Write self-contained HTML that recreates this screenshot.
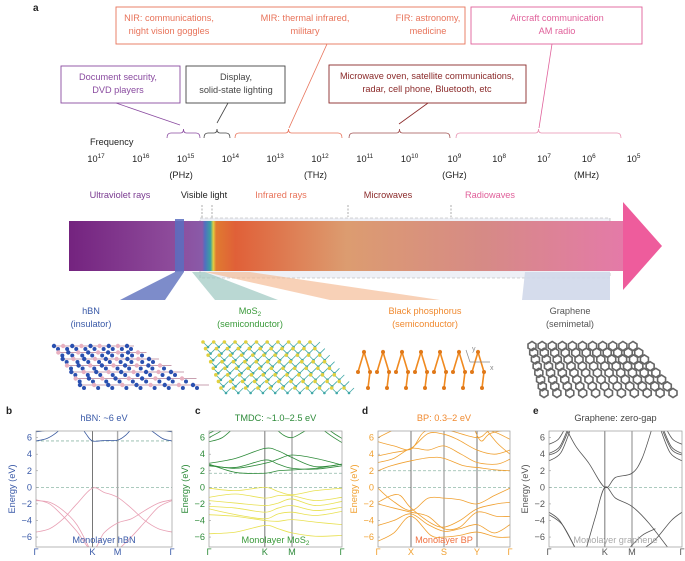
<!DOCTYPE html>
<html><head><meta charset="utf-8"><style>
body{margin:0;background:#fff}
svg{display:block;font-family:"Liberation Sans",sans-serif}
</style></head><body>
<svg id="fig" width="685" height="561" viewBox="0 0 685 561" xmlns="http://www.w3.org/2000/svg">
<defs>
<linearGradient id="barg" x1="0" x2="1" y1="0" y2="0">
<stop offset="0" stop-color="#74237f"/><stop offset="0.18" stop-color="#8d4a9a"/>
<stop offset="0.24" stop-color="#8a5aa8"/><stop offset="0.245" stop-color="#5070c0"/><stop offset="0.255" stop-color="#3aa0a0"/><stop offset="0.26" stop-color="#e0d040"/><stop offset="0.265" stop-color="#e07a30"/>
<stop offset="0.3" stop-color="#e06038"/><stop offset="0.5" stop-color="#dc9c70"/><stop offset="0.75" stop-color="#d68a86"/><stop offset="1" stop-color="#e47aa8"/>
</linearGradient>
</defs>
<g id="topg"></g>
<g id="lat"></g>
<g id="bands"></g>
</svg>
<script>
// ---- data ----
const freqExponents=[17,16,15,14,13,12,11,10,9,8,7,6,5];
const unitLabels=["(PHz)","(THz)","(GHz)","(MHz)"];
const regionLabels=["Ultraviolet rays","Visible light","Infrared rays","Microwaves","Radiowaves"];
const yTicks=[6,4,2,0,-2,-4,-6];
const hbnK=["Γ","K","M","Γ"], hbnKpos=[0,0.415,0.6,1];
const mosK=["Γ","K","M","Γ"], mosKpos=[0,0.42,0.624,1];
const bpK=["Γ","X","S","Y","Γ"], bpKpos=[0,0.25,0.5,0.75,1];
const grK=["Γ","K","M","Γ"], grKpos=[0,0.42,0.624,1];
const hbnVal=[
[[0,-5.4],[0.1,-5.0],[0.2,-3.8],[0.3,-2.0],[0.415,-0.1],[0.5,-0.6],[0.6,-1.2],[0.7,-2.5],[0.8,-4.0],[0.9,-5.0],[1,-5.4]],
[[0,-1.5],[0.1,-2.0],[0.2,-3.5],[0.3,-5.3],[0.415,-7.6],[0.5,-5.5],[0.6,-4.3],[0.7,-3.8],[0.8,-2.8],[0.9,-1.9],[1,-1.5]],
[[0,-1.6],[0.1,-1.8],[0.2,-2.8],[0.3,-4.5],[0.4,-7.6]],
[[0.6,-7.6],[0.7,-6.0],[0.8,-4.2],[0.9,-2.4],[1,-1.6]]];
const hbnCond=[
[[0,5.6],[0.08,5.9],[0.15,6.6],[0.2,7.4]],[[0.33,7.4],[0.37,6.4],[0.415,5.6],[0.5,5.65],[0.6,5.7],[0.66,6.3],[0.72,7.4]],
[[0.8,7.4],[0.86,6.7],[0.93,5.9],[1,5.6]],[[0,6.7],[0.08,6.9],[0.13,7.4]],[[0.88,7.4],[0.93,6.9],[1,6.7]]];
const mosCond=[
[[0,2.8],[0.2,1.8],[0.42,1.7],[0.52,2.0],[0.624,2.1],[0.8,2.3],[1,2.8]],
[[0,2.7],[0.2,2.3],[0.42,2.9],[0.52,3.4],[0.624,3.9],[0.8,3.5],[1,2.7]],
[[0,2.9],[0.2,3.5],[0.42,4.7],[0.52,4.4],[0.624,3.6],[0.8,2.5],[1,2.8]],
[[0,2.6],[0.2,2.4],[0.42,3.3],[0.52,2.8],[0.624,2.3],[0.8,2.2],[1,2.6]],
[[0,5.5],[0.1,6.0],[0.2,7.4]],[[0.48,7.4],[0.56,6.3],[0.624,6.0],[0.7,6.6],[0.78,7.4]],
[[0.82,7.4],[0.92,6.2],[1,5.4]],[[0,6.0],[0.08,6.7],[0.14,7.4]],[[0.86,7.4],[0.94,6.5],[1,5.9]],[[0,6.5],[0.06,7.0],[0.1,7.4]]];
const mosVal=[
[[0,-0.1],[0.2,-0.4],[0.42,0],[0.52,-0.5],[0.624,-0.9],[0.8,-0.4],[1,-0.1]],
[[0,-1.2],[0.2,-0.8],[0.42,-1.3],[0.52,-1.0],[0.624,-1.0],[0.8,-1.6],[1,-1.2]],
[[0,-1.6],[0.2,-1.9],[0.42,-2.2],[0.52,-1.9],[0.624,-1.4],[0.8,-2.2],[1,-1.7]],
[[0,-2.3],[0.2,-2.5],[0.42,-3.0],[0.52,-2.5],[0.624,-2.2],[0.8,-2.8],[1,-2.4]],
[[0,-2.6],[0.2,-3.3],[0.42,-3.8],[0.52,-3.2],[0.624,-3.0],[0.8,-3.4],[1,-2.9]],
[[0,-3.3],[0.2,-3.5],[0.42,-4.0],[0.52,-4.1],[0.624,-3.9],[0.8,-4.2],[1,-4.5]],
[[0,-5.6],[0.2,-5.4],[0.42,-4.6],[0.52,-5.0],[0.624,-5.5],[0.8,-5.9],[1,-5.8]]];
const bpCond=[
[[0,2.0],[0.1,2.6],[0.25,3.2],[0.4,3.6],[0.5,3.5],[0.65,2.6],[0.75,2.4],[0.9,2.1],[1,2.0]],
[[0,3.0],[0.12,3.5],[0.25,4.7],[0.38,4.5],[0.5,5.0],[0.63,4.0],[0.75,3.0],[0.9,2.8],[1,3.4]],
[[0,3.8],[0.12,4.2],[0.25,4.7],[0.38,6.5],[0.5,6.4],[0.6,5.8],[0.75,4.5],[0.88,4.0],[1,4.5]],
[[0,5.5],[0.12,5.0],[0.25,4.6],[0.35,6.7],[0.5,7.0],[0.75,6.0],[0.85,6.8],[1,5.8]],
[[0,6.0],[0.1,6.8],[0.2,7.5]],[[0.72,7.4],[0.78,5.6],[0.85,6.5],[1,7.0]],[[0.8,7.4],[0.9,5.4],[1,4.0]]];
const bpVal=[
[[0,-0.1],[0.1,-1.5],[0.25,-2.8],[0.38,-1.3],[0.5,-1.3],[0.62,-1.5],[0.75,-2.0],[0.88,-1.0],[1,-0.1]],
[[0,-1.8],[0.1,-1.0],[0.17,-1.0],[0.25,-2.5],[0.4,-4.3],[0.5,-4.8],[0.62,-4.0],[0.75,-2.6],[0.9,-2.0],[1,-1.8]],
[[0,-2.0],[0.12,-2.5],[0.25,-3.0],[0.38,-3.5],[0.5,-5.0],[0.62,-4.8],[0.75,-3.0],[0.9,-3.5],[1,-3.5]],
[[0,-4.6],[0.12,-4.0],[0.25,-3.2],[0.38,-4.5],[0.5,-5.3],[0.62,-5.0],[0.75,-4.5],[0.88,-5.5],[1,-4.5]],
[[0,-6.5],[0.12,-5.5],[0.25,-3.5],[0.4,-5.8],[0.5,-6.0],[0.62,-5.8],[0.75,-5.4],[0.9,-6.0],[1,-6.0]]];
const grBands=[
[[0.12,7.4],[0.2,5.0],[0.3,2.9],[0.42,0],[0.5,1.2],[0.624,1.7],[0.7,3.5],[0.78,7.4]],
[[0.28,-7.4],[0.35,-3.5],[0.42,0],[0.5,-1.3],[0.624,-2.3],[0.75,-4.3],[0.9,-7.4]],
[[0,5.2],[0.07,5.8],[0.13,7.4]],[[0,4.1],[0.08,4.9],[0.15,7.4]],[[0,3.9],[0.08,4.6],[0.16,7.4]],[[0,3.2],[0.09,4.2],[0.17,7.4]],
[[1,5.2],[0.93,5.8],[0.87,7.4]],[[1,4.1],[0.92,4.9],[0.85,7.4]],[[1,3.9],[0.92,4.6],[0.84,7.4]],[[1,3.2],[0.91,4.2],[0.83,7.4]],
[[0,-3.0],[0.08,-4.0],[0.17,-6.5],[0.2,-7.5]],[[0,-3.3],[0.1,-4.5],[0.2,-7.4]],
[[1,-3.0],[0.92,-4.0],[0.8,-6.3],[0.7,-7.5]],[[0.6,-7.4],[0.7,-5.8],[0.8,-5.0]]];

const FS=9.2;
const NS="http://www.w3.org/2000/svg";
function mk(tag,attrs,parent,text){const e=document.createElementNS(NS,tag);for(const k in attrs)e.setAttribute(k,attrs[k]);if(text!==undefined)e.textContent=text;parent.appendChild(e);return e;}
const topG=document.getElementById('topg');
function txt(x,y,s,fill,size,parent,anchor,name){const t=mk('text',{x:x,y:y,fill:fill,'font-size':size,'text-anchor':anchor||'middle'},parent||topG,s);return t;}

// ---- panel a ----
txt(33,11,"a","#222",10,topG,'start','panel-label-a').setAttribute('font-weight','bold');
const boxes=[
[116,7,349,37,"#e8735a",[[169,"NIR: communications,","night vision goggles"],[305,"MIR: thermal infrared,","military"],[428,"FIR: astronomy,","medicine"]],'ir-applications-box'],
[471,7,171,37,"#e0609a",[[557,"Aircraft communication","AM radio"]],'radio-applications-box'],
[61,66,119,37,"#8a4ba0",[[118,"Document security,","DVD players"]],'uv-applications-box'],
[186,66,99,37,"#444",[[236,"Display,","solid-state lighting"]],'visible-applications-box'],
[329,65,197,38,"#8b2a2a",[[427,"Microwave oven, satellite communications,","radar, cell phone, Bluetooth, etc"]],'microwave-applications-box']];
boxes.forEach(b=>{const g=mk('g',{},topG);
 mk('rect',{x:b[0],y:b[1],width:b[2],height:b[3],fill:'none',stroke:b[4],'stroke-width':0.9},g);
 b[5].forEach(t=>{txt(t[0],b[1]+14,t[1],b[4],FS,g);txt(t[0],b[1]+27,t[2],b[4],FS,g);});});
const conns=[[116,103,180,125,"#8a4ba0"],[228,103,217,123,"#444"],[327,44,289,128,"#e8735a"],[428,103,399,124,"#8b2a2a"],[552,44,539,128,"#e0609a"]];
conns.forEach(c=>{const l=mk('line',{x1:c[0],y1:c[1],x2:c[2],y2:c[3],stroke:c[4],'stroke-width':0.8},topG);});
const braces=[[167,200,"#8a4ba0"],[204,230,"#444"],[235,342,"#e8735a"],[349,450,"#a05050"],[456,621,"#e890b0"]];
braces.forEach(b=>{const m=(b[0]+b[1])/2,y=129;const p=mk('path',{d:`M${b[0]},${y+9} Q${b[0]},${y+4} ${b[0]+4},${y+4} L${m-3},${y+4} Q${m},${y+4} ${m},${y} Q${m},${y+4} ${m+3},${y+4} L${b[1]-4},${y+4} Q${b[1]},${y+4} ${b[1]},${y+9}`,fill:'none',stroke:b[2],'stroke-width':0.8},topG);});
txt(90,145,"Frequency","#222",FS,topG,'start','frequency-title');
const fx=e=>96+(17-e)*44.8;
freqExponents.forEach(e=>{const t=mk('text',{x:fx(e),y:162,fill:'#222','font-size':FS,'text-anchor':'middle'},topG);
 mk('tspan',{},t,"10");mk('tspan',{'font-size':6.4,dy:-4},t,String(e));});
const unitExp=[15.1,12.1,9,6.05];
unitLabels.forEach((u,i)=>txt(fx(unitExp[i]),178,u,'#222',FS,topG,'middle','frequency-unit'));
const regX=[120,204,281,388,490],regC=["#7a3a90","#222","#e8735a","#8b2a2a","#e0609a"];
regionLabels.forEach((r,i)=>txt(regX[i],198,r,regC[i],FS,topG,'middle','region-label'));
// bar
const bar=mk('g',{},topG);
mk('rect',{x:200,y:218,width:410,height:60,fill:'#eef0f6',stroke:'#aaa','stroke-dasharray':'3,2','stroke-width':0.6},bar);
mk('rect',{x:69,y:221,width:555,height:50,fill:'url(#barg)'},bar);
mk('polygon',{points:'623,202 662,246 623,290',fill:'#ee5c9c'},bar);
mk('rect',{x:175,y:219,width:9,height:53,fill:'#5a6ec0',opacity:0.85},bar);
[[202,205,218],[212,205,218],[348,205,217],[451,205,217]].forEach(d=>mk('line',{x1:d[0],y1:d[1],x2:d[0],y2:d[2],stroke:'#777','stroke-dasharray':'2,1.5','stroke-width':0.6},bar));
const proj=[["120,300 165,300 184,272 175,272","#6f7fc4",0.9,'hbn-projection'],["192,272 205,272 278,300 215,300","#9cc8c0",0.7,'mos2-projection'],["205,272 250,272 440,300 330,300","#f4b890",0.65,'bp-projection'],["525,272 610,272 610,300 522,300","#d0d8ea",0.9,'graphene-projection']];
proj.forEach(p=>{const e=mk('polygon',{points:p[0],fill:p[1],opacity:p[2]},topG);});
const mats=[[91,"hBN","(insulator)","#3a5aa8"],[250,"MoS","(semiconductor)","#3a9a3a"],[425,"Black phosphorus","(semiconductor)","#f08a30"],[570,"Graphene","(semimetal)","#555"]];
mats.forEach((m,i)=>{const t=txt(m[0],314,m[1],m[3],FS,topG,'middle','material-name');if(i==1){mk('tspan',{'font-size':6.4,dy:2},t,"2");}txt(m[0],327,m[2],m[3],FS,topG,'middle','material-type');});

// ---- lattices (decorative) ----
const lat=document.getElementById('lat');
function grid(x0t,x1t,x0b,x1b,y0,y1,nx,ny,fn){for(let j=0;j<ny;j++){const f=j/(ny-1);const xa=x0t+(x0b-x0t)*f,xb=x1t+(x1b-x1t)*f,y=y0+(y1-y0)*f;for(let i=0;i<nx;i++){fn(xa+(xb-xa)*i/(nx-1),y,i,j);}}}
grid(54,127,80,193,346,385,9,7,(x,y,i,j)=>{mk('line',{x1:x,y1:y,x2:x+7+j*1.5,y2:y,stroke:'#c8a0b0','stroke-width':1},lat);mk('circle',{cx:x,cy:y,r:2.2,fill:(i+j)%2?'#e8b0c0':'#2a50b0'},lat);mk('circle',{cx:x+4,cy:y+3,r:2,fill:'#2a50b0'},lat);});
grid(203,310,221,344,342,388,11,8,(x,y,i,j)=>{mk('line',{x1:x,y1:y,x2:x+5,y2:y+5,stroke:'#40a8a8','stroke-width':0.8},lat);mk('line',{x1:x+5,y1:y+5,x2:x+10,y2:y,stroke:'#40a8a8','stroke-width':0.8},lat);mk('circle',{cx:x,cy:y,r:1.8,fill:'#e0d040'},lat);mk('circle',{cx:x+5,cy:y+5,r:1.3,fill:'#40a8a8'},lat);});
let bp="";for(let i=0;i<7;i++){const x=358+i*19;bp+=`M${x},${372} L${x+6},${352} L${x+12},${372} L${x+10},${388} `;}
mk('path',{d:bp,fill:'none',stroke:'#f08a20','stroke-width':1.6},lat);
for(let i=0;i<7;i++){const x=358+i*19;[[x,372],[x+6,352],[x+12,372],[x+10,388]].forEach(p=>mk('circle',{cx:p[0],cy:p[1],r:2,fill:'#e07818'},lat));}
mk('path',{d:'M470,362 L466,350 M470,362 L490,362',stroke:'#888',fill:'none','stroke-width':0.7},lat);
txt(472,351,"y","#888",7,lat,'start','axis-y-label');txt(490,370,"x","#888",7,lat,'start','axis-x-label');
grid(528,629,540,669,344,391,11,8,(x,y,i,j)=>{mk('path',{d:`M${x},${y} l4,-2.5 l4,2.5 l0,4 l-4,2.5 l-4,-2.5 z`,fill:'none',stroke:'#666','stroke-width':1.6},lat);});

// ---- band panels ----
const B=document.getElementById('bands');
function smooth(pts){let d=`M${pts[0][0]},${pts[0][1]}`;for(let i=0;i<pts.length-1;i++){const p0=pts[i-1]||pts[i],p1=pts[i],p2=pts[i+1],p3=pts[i+2]||p2;d+=` C${p1[0]+(p2[0]-p0[0])/6},${p1[1]+(p2[1]-p0[1])/6} ${p2[0]-(p3[0]-p1[0])/6},${p2[1]-(p3[1]-p1[1])/6} ${p2[0]},${p2[1]}`;}return d;}
function panel(id,letter,lx,x0,x1,title,tcol,axcol,kl,kp,groups,dashes,inner,innerCol){
 const g=mk('g',{},B);
 const y0=431,y1=547,emin=-7.2,emax=6.8;const sy=e=>y1-(e-emin)/(emax-emin)*(y1-y0);const sx=t=>x0+t*(x1-x0);
 txt(lx,414,letter,'#222',10,g,'start','panel-letter').setAttribute('font-weight','bold');
 txt((x0+x1)/2,421,title,tcol,FS,g,'middle','panel-title');
 const cp=mk('clipPath',{id:'cp'+id},g);mk('rect',{x:x0,y:y0,width:x1-x0,height:y1-y0},cp);
 dashes.forEach(e=>{const l=mk('line',{x1:x0,x2:x1,y1:sy(e),y2:sy(e),stroke:'#8fb8a8','stroke-dasharray':'3,2','stroke-width':0.8},g);});
 kp.forEach((t,i)=>{if(i>0&&i<kp.length-1){mk('line',{x1:sx(t),x2:sx(t),y1:y0,y2:y1,stroke:i%2?'#555':'#aaa','stroke-width':i%2?0.8:1.4},g);}
  txt(sx(t),555,kl[i],axcol,FS,g,'middle','k-point-label');});
 const cg=mk('g',{'clip-path':`url(#cp${id})`},g);
 groups.forEach(gr=>gr[0].forEach(b=>{const p=mk('path',{d:smooth(b.map(q=>[sx(q[0]),sy(q[1])])),fill:'none',stroke:gr[1],'stroke-width':0.8},cg);}));
 mk('rect',{x:x0,y:y0,width:x1-x0,height:y1-y0,fill:'none',stroke:'#999','stroke-width':0.7},g);
 yTicks.forEach(v=>{txt(x0-4,sy(v)+3,v<0?"−"+(-v):String(v),axcol,FS,g,'end','y-tick-label');mk('line',{x1:x0,x2:x0+2,y1:sy(v),y2:sy(v),stroke:'#999','stroke-width':0.6},g);});
 const yt=txt(0,0,"Energy (eV)",axcol,FS,g,'middle','y-axis-title');yt.setAttribute('transform',`translate(${x0-21},${(y0+y1)/2}) rotate(-90)`);
 const it=txt((x0+x1)/2,543,inner,innerCol,FS,g,'middle','panel-inner-label');if(id==='mos2'){mk('tspan',{'font-size':6.4,dy:2},it,"2");}
}
panel('hbn','b',6,36,172,"hBN: ~6 eV","#3a5aa8","#3a5aa8",hbnK,hbnKpos,[[hbnVal,'#e8a0b4'],[hbnCond,'#3a5aa0']],[5.6,0],"Monolayer hBN","#3a5aa8");
panel('mos2','c',195,209,342,"TMDC: ~1.0–2.5 eV","#2e8b3a","#2e8b3a",mosK,mosKpos,[[mosVal,'#e8e050'],[mosCond,'#2e8b3a']],[1.7,0],"Monolayer MoS","#3a9a3a");
panel('bp','d',362,378,510,"BP: 0.3–2 eV","#f08a30","#f0a030",bpK,bpKpos,[[bpVal,'#f0a030'],[bpCond,'#f0a030']],[2,0],"Monolayer BP","#f07040");
panel('gr','e',533,549,682,"Graphene: zero-gap","#444","#555",grK,grKpos,[[grBands,'#555']],[0],"Monolayer graphene","#aaa");
</script>
</body></html>
